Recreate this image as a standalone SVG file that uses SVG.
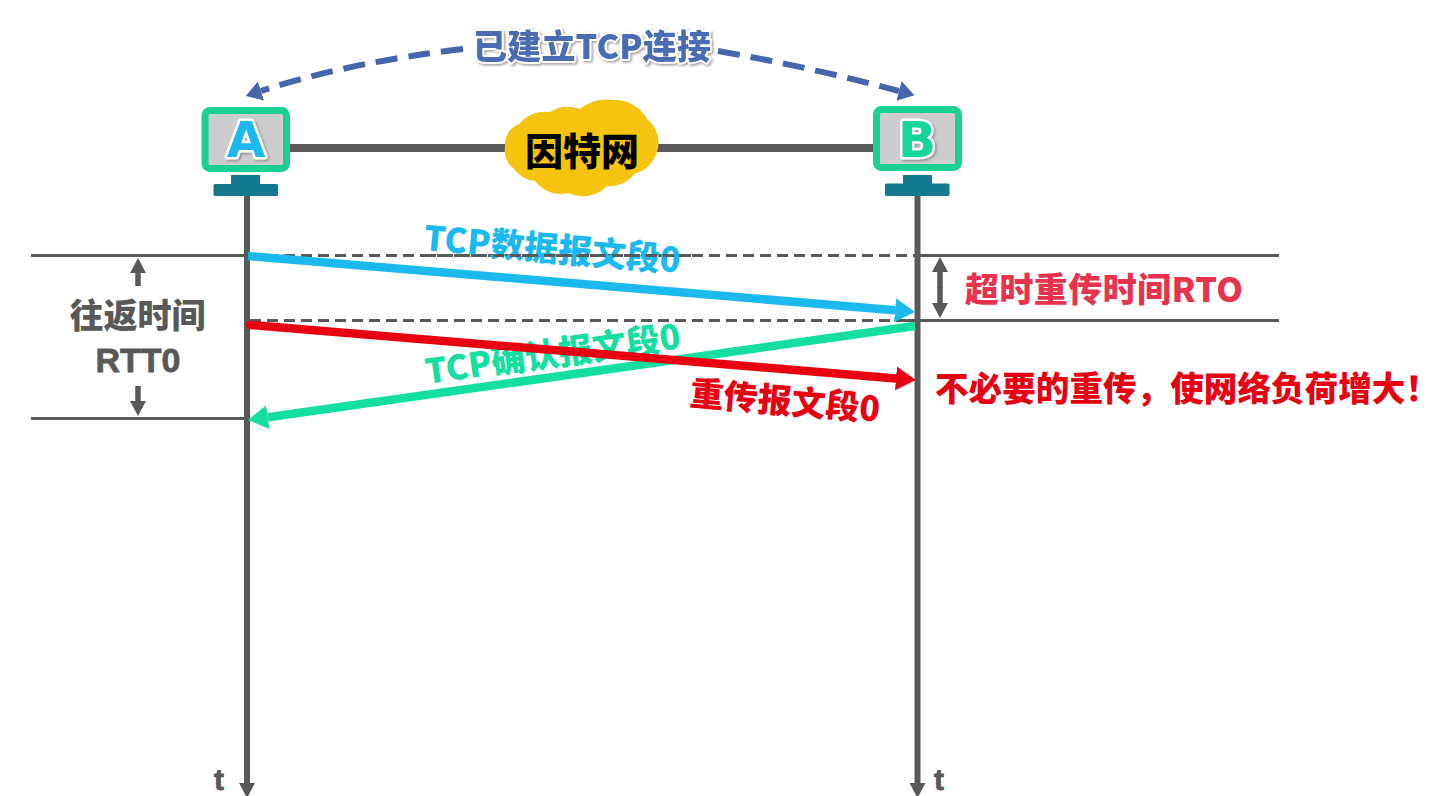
<svg xmlns="http://www.w3.org/2000/svg" width="1440" height="796" viewBox="0 0 1440 796">
<style>
text{font-family:"Noto Sans CJK SC","Noto Sans",sans-serif;font-weight:900}
.t34{font-size:34px}
.hl{fill:none;stroke:#595959;stroke-width:3}
.dash{fill:none;stroke:#595959;stroke-width:3;stroke-dasharray:11 6}
.life{stroke:#595959;stroke-width:6;fill:none}
.frame{fill:#cdcdd0;stroke:#19d191;stroke-width:7}
.stand{fill:#127a8c}
.letter{font-family:"DejaVu Sans",sans-serif;font-size:50px;font-weight:700;stroke:#fff;stroke-width:5;paint-order:stroke;stroke-linejoin:round;filter:url(#sh)}
.gray{fill:#595959}
.lat{font-family:"Liberation Sans",sans-serif;font-weight:700;stroke:#595959;stroke-width:.8}
.dsh{fill:none;stroke:#4565ad;stroke-width:6;stroke-dasharray:22 11}
.tick{stroke:#595959;stroke-width:5.500;fill:none}
</style>
<defs>
<filter id="sh" x="-20%" y="-20%" width="140%" height="140%"><feDropShadow dx="1.5" dy="1.5" stdDeviation="1.2" flood-color="#777" flood-opacity=".7"/></filter>
<marker id="hB" markerUnits="userSpaceOnUse" markerWidth="22" markerHeight="26" refX="0" refY="13" orient="auto"><path d="M0,1 L20,13 L0,25Z" fill="#1bb9ee"/></marker>
<marker id="hG" markerUnits="userSpaceOnUse" markerWidth="22" markerHeight="26" refX="0" refY="13" orient="auto"><path d="M0,1 L20,13 L0,25Z" fill="#14dfa0"/></marker>
<marker id="hR" markerUnits="userSpaceOnUse" markerWidth="22" markerHeight="26" refX="0" refY="13" orient="auto"><path d="M0,1 L20,13 L0,25Z" fill="#e60012"/></marker>
<marker id="hD" markerUnits="userSpaceOnUse" markerWidth="18" markerHeight="24" refX="0" refY="12" orient="auto"><path d="M0,2 L16,12 L0,22Z" fill="#4565ad"/></marker>
<marker id="hK" markerUnits="userSpaceOnUse" markerWidth="18" markerHeight="20" refX="0" refY="10" orient="auto"><path d="M0,2 L15,10 L0,18Z" fill="#595959"/></marker>
</defs>
<rect width="1440" height="796" fill="#fff"/>

<g id="connectors">
<path class="hl" d="M290,148H873" style="stroke-width:8"/>
<path class="life" d="M247,196V783" marker-end="url(#hK)"/>
<path class="life" d="M917.500,196V783" marker-end="url(#hK)"/>
<path d="M31,255.500H245M31,418.500H245M919,255.500H1279M900,320.500H1279" class="hl"/>
<path d="M250,255.500H916M250,320.500H900" class="dash"/>
<path class="dsh" d="M463,49Q350,62 261,91" marker-end="url(#hD)"/>
<path class="dsh" d="M718,51Q810,67 899,91" marker-end="url(#hD)"/>
<path class="tick" d="M138,286V273" marker-end="url(#hK)"/>
<path class="tick" d="M138,386V401" marker-end="url(#hK)"/>
<path class="tick" d="M940,287V303" marker-end="url(#hK)"/>
<path class="tick" d="M940,288V272" marker-end="url(#hK)"/>
</g>

<g id="label-syn"><text x="473" y="59" class="t34" fill="#4a6cb3" stroke="#fff" stroke-width="4" paint-order="stroke" stroke-linejoin="round" filter="url(#sh)" textLength="238">已建立TCP连接</text></g>

<g id="cloud">
<path d="M505,147 A22,22 0 0 1 519,124 A34,34 0 0 1 550,112 A34,34 0 0 1 580,109 A42,42 0 0 1 613,100 A38,38 0 0 1 648,120 A30,30 0 0 1 658,148 A32,32 0 0 1 634,174 A30,30 0 0 1 607,186 A34,34 0 0 1 568,193 A32,32 0 0 1 535,181 A32,32 0 0 1 513,168 A22,22 0 0 1 505,147Z" fill="#f6c30f"/>
<text x="525" y="165" font-size="38" fill="#000">因特网</text>
</g>

<g id="node-A">
<rect class="frame" x="205" y="110.500" width="81.500" height="58" rx="5"/>
<rect class="stand" x="231" y="175" width="29" height="10"/>
<rect class="stand" x="213.500" y="184" width="64.500" height="12" rx="1.500"/>
<text class="letter" x="246" y="157" text-anchor="middle" fill="#1bb9ee">A</text>
</g>
<g id="node-B">
<rect class="frame" x="876.500" y="109.500" width="82" height="58" rx="5"/>
<rect class="stand" x="903" y="175" width="29" height="10"/>
<rect class="stand" x="885" y="183.500" width="64.500" height="12.500" rx="1.500"/>
<text class="letter" x="917" y="157" text-anchor="middle" fill="#14d69a">B</text>
</g>

<g id="messages">
<text class="t34" fill="#1bb9ee" transform="translate(423,250) rotate(5)">TCP数据报文段0</text>
<path d="M430,255.500H700" class="dash" stroke-dashoffset="5"/>
<line x1="248" y1="256" x2="895" y2="310.300" stroke="#1bb9ee" stroke-width="8.500" marker-end="url(#hB)"/>
<text class="t34" fill="#14dfa0" transform="translate(427,384) rotate(-8)">TCP确认报文段0</text>
<line x1="915" y1="326" x2="267.800" y2="417.200" stroke="#14dfa0" stroke-width="8.500" marker-end="url(#hG)"/>
<line x1="250" y1="325" x2="896" y2="378.400" stroke="#e60012" stroke-width="8.500" stroke-linecap="round" marker-end="url(#hR)"/>
<text class="t34" fill="#e60012" transform="translate(689,405) rotate(5)">重传报文段0</text>
</g>

<g id="labels">
<text class="t34 gray" x="137.500" y="328" text-anchor="middle">往返时间</text>
<text class="t34 gray lat" x="138" y="372" text-anchor="middle">RTT0</text>
<text class="t34" x="965" y="302" fill="#e8334f" textLength="278">超时重传时间RTO</text>
<text x="935" y="401" font-size="33.600" fill="#e60012" textLength="504">不必要的重传，使网络负荷增大！</text>
<text class="gray lat" x="214" y="789.500" font-size="30">t</text>
<text class="gray lat" x="934" y="789.500" font-size="30">t</text>
</g>
</svg>
